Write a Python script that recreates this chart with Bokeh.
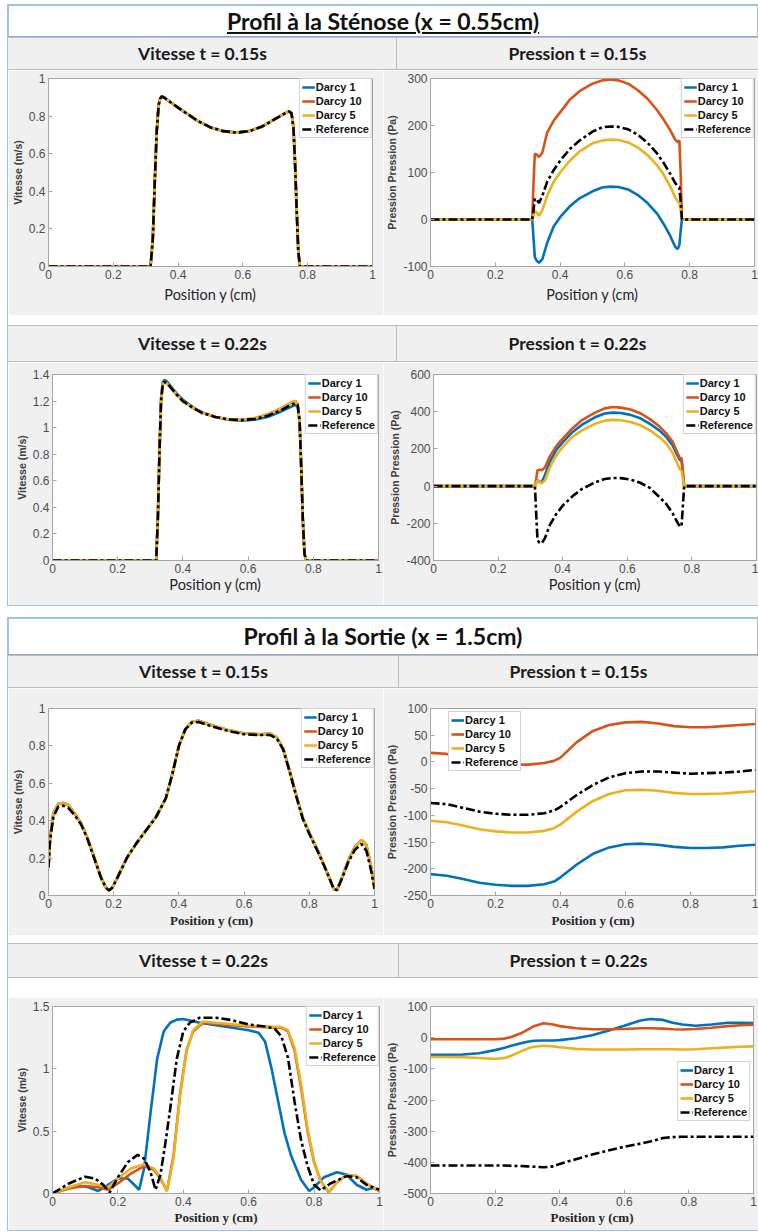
from bokeh.plotting import figure
from bokeh.models import Range1d, FixedTicker, Div, Spacer, Legend, LegendItem, PrintfTickFormatter
from bokeh.layouts import column, row
from bokeh.embed import file_html
from bokeh.resources import INLINE

# ---------------- data ----------------
SERIES = ["Darcy 1", "Darcy 10", "Darcy 5", "Reference"]
COLORS = ["#0072BD", "#D95319", "#EDB120", "#000000"]

X_TICKS = [0, 0.2, 0.4, 0.6, 0.8, 1]
X_TICK_LABELS = ["0", "0.2", "0.4", "0.6", "0.8", "1"]

# Sténose, vitesse t=0.15s
STEN_V15_X = [0, 0.1, 0.2, 0.3, 0.315, 0.322, 0.328, 0.334, 0.34, 0.345, 0.35, 0.36,
              0.38, 0.40, 0.43, 0.46, 0.50, 0.54, 0.58, 0.62, 0.66, 0.70,
              0.72, 0.735, 0.742, 0.75, 0.756, 0.761, 0.766, 0.771, 0.776, 0.78, 0.9, 1.0]
STEN_V15_REF = [0, 0, 0, 0, 0.0, 0.15, 0.45, 0.72, 0.86, 0.895, 0.905, 0.895,
                0.87, 0.845, 0.81, 0.775, 0.74, 0.72, 0.712, 0.72, 0.745, 0.785,
                0.805, 0.82, 0.825, 0.815, 0.74, 0.55, 0.3, 0.08, 0.0, 0, 0, 0]
STEN_V15_D1 = STEN_V15_REF
STEN_V15_D10 = STEN_V15_REF
STEN_V15_D5 = STEN_V15_REF
STEN_V15_YTICKS = [0, 0.2, 0.4, 0.6, 0.8, 1]
STEN_V15_YLABELS = ["0", "0.2", "0.4", "0.6", "0.8", "1"]

# Sténose, pression t=0.15s
STEN_P_X = [0, 0.1, 0.2, 0.3, 0.314, 0.318, 0.322, 0.328, 0.335, 0.345, 0.36,
            0.38, 0.40, 0.43, 0.46, 0.50, 0.53, 0.555, 0.58, 0.61, 0.64, 0.67, 0.70,
            0.72, 0.74, 0.755, 0.763, 0.768, 0.772, 0.776, 0.78, 0.9, 1.0]
STEN_P15_D10 = [0, 0, 0, 0, 0, 80, 140, 138, 133, 142, 185,
                210, 228, 255, 273, 289, 296, 298, 296, 289, 275, 257, 232,
                212, 190, 170, 165, 168, 100, 0, 0, 0, 0]
STEN_P15_REF = [0, 0, 0, 0, 0, 20, 45, 42, 35, 50, 80,
                105, 125, 150, 168, 187, 196, 198, 197, 192, 180, 163, 140,
                120, 97, 78, 70, 68, 40, 0, 0, 0, 0]
STEN_P15_D5 = [0, 0, 0, 0, 0, 8, 18, 15, 8, 20, 50,
               80, 100, 125, 145, 162, 168, 170, 169, 164, 153, 137, 115,
               95, 70, 48, 38, 36, 20, 0, 0, 0, 0]
STEN_P15_D1 = [0, 0, 0, 0, 0, -40, -80, -88, -92, -85, -50,
               -15, 5, 28, 45, 60, 68, 70, 69, 64, 52, 35, 12,
               -10, -35, -58, -63, -55, -25, 0, 0, 0, 0]
STEN_P15_YTICKS = [-100, 0, 100, 200, 300]
STEN_P15_YLABELS = ["-100", "0", "100", "200", "300"]

# Sténose, vitesse t=0.22s
STEN_V22_X = [0, 0.1, 0.2, 0.3, 0.318, 0.323, 0.328, 0.333, 0.338, 0.343, 0.35, 0.36,
              0.38, 0.40, 0.43, 0.46, 0.50, 0.54, 0.58, 0.62, 0.66, 0.70,
              0.73, 0.745, 0.752, 0.758, 0.763, 0.768, 0.773, 0.778, 0.9, 1.0]
STEN_V22_REF = [0, 0, 0, 0, 0, 0.3, 0.8, 1.2, 1.32, 1.345, 1.335, 1.31,
                1.25, 1.2, 1.15, 1.11, 1.08, 1.062, 1.057, 1.065, 1.09, 1.13,
                1.17, 1.185, 1.17, 1.05, 0.7, 0.3, 0.05, 0, 0, 0]
STEN_V22_D1 = [0, 0, 0, 0, 0, 0.3, 0.8, 1.22, 1.34, 1.36, 1.35, 1.32,
               1.26, 1.21, 1.155, 1.115, 1.08, 1.06, 1.052, 1.06, 1.08, 1.12,
               1.155, 1.17, 1.16, 1.05, 0.7, 0.3, 0.05, 0, 0, 0]
STEN_V22_D5 = [0, 0, 0, 0, 0, 0.3, 0.8, 1.2, 1.32, 1.345, 1.335, 1.31,
               1.25, 1.2, 1.15, 1.11, 1.08, 1.062, 1.06, 1.07, 1.1, 1.145,
               1.185, 1.2, 1.18, 1.05, 0.7, 0.3, 0.05, 0, 0, 0]
STEN_V22_D10 = STEN_V22_D5
STEN_V22_YTICKS = [0, 0.2, 0.4, 0.6, 0.8, 1, 1.2, 1.4]
STEN_V22_YLABELS = ["0", "0.2", "0.4", "0.6", "0.8", "1", "1.2", "1.4"]

# Sténose, pression t=0.22s
STEN_P22_D10 = [0, 0, 0, 0, 0, 40, 85, 88, 85, 100, 160,
                215, 255, 310, 355, 395, 418, 425, 422, 412, 392, 360, 320,
                285, 240, 180, 150, 150, 80, 0, 0, 0, 0]
STEN_P22_D1 = [0, 0, 0, 0, 0, 15, 30, 25, 20, 60, 130,
               195, 235, 290, 330, 370, 390, 395, 393, 383, 365, 335, 298,
               265, 220, 165, 140, 138, 70, 0, 0, 0, 0]
STEN_P22_D5 = [0, 0, 0, 0, 0, 15, 30, 22, 15, 30, 100,
               165, 210, 265, 300, 335, 352, 356, 354, 345, 327, 300, 262,
               230, 180, 120, 90, 82, 40, 0, 0, 0, 0]
STEN_P22_REF = [0, 0, 0, 0, 0, -150, -290, -305, -308, -280, -210,
                -150, -105, -55, -15, 20, 38, 44, 43, 35, 18, -10, -60,
                -95, -145, -195, -218, -215, -110, 0, 0, 0, 0]
STEN_P22_YTICKS = [-400, -200, 0, 200, 400, 600]
STEN_P22_YLABELS = ["-400", "-200", "0", "200", "400", "600"]

# Sortie, vitesse t=0.15s
SORT_V15_X = [0, 0.005, 0.015, 0.03, 0.045, 0.06, 0.08, 0.1, 0.12, 0.14,
              0.16, 0.175, 0.185, 0.195, 0.21, 0.24, 0.27, 0.3, 0.33, 0.36,
              0.38, 0.4, 0.42, 0.44, 0.46, 0.5, 0.55, 0.6, 0.65, 0.68,
              0.7, 0.72, 0.74, 0.76, 0.78, 0.8, 0.83, 0.86, 0.875, 0.885,
              0.9, 0.92, 0.94, 0.96, 0.975, 0.99, 1.0]
SORT_V15_REF = [0.15, 0.3, 0.42, 0.475, 0.48, 0.47, 0.43, 0.38, 0.3, 0.2,
                0.1, 0.045, 0.027, 0.04, 0.09, 0.2, 0.28, 0.35, 0.42, 0.52,
                0.65, 0.8, 0.89, 0.925, 0.928, 0.905, 0.88, 0.862, 0.858, 0.858,
                0.84, 0.78, 0.66, 0.53, 0.41, 0.33, 0.22, 0.1, 0.035, 0.03,
                0.09, 0.18, 0.245, 0.275, 0.24, 0.13, 0.035]
SORT_V15_D5 = [0.15, 0.31, 0.44, 0.49, 0.495, 0.485, 0.44, 0.385, 0.305, 0.205,
               0.1, 0.045, 0.027, 0.04, 0.09, 0.2, 0.28, 0.35, 0.42, 0.52,
               0.65, 0.8, 0.89, 0.928, 0.935, 0.91, 0.885, 0.866, 0.862, 0.865,
               0.846, 0.785, 0.665, 0.535, 0.415, 0.335, 0.225, 0.1, 0.035, 0.03,
               0.095, 0.19, 0.26, 0.298, 0.27, 0.15, 0.05]
SORT_V15_D1 = SORT_V15_D5
SORT_V15_D10 = SORT_V15_D5
SORT_V15_YTICKS = [0, 0.2, 0.4, 0.6, 0.8, 1]
SORT_V15_YLABELS = ["0", "0.2", "0.4", "0.6", "0.8", "1"]

# Sortie, pression t=0.15s
SORT_P15_X = [0, 0.05, 0.1, 0.15, 0.2, 0.25, 0.3, 0.35, 0.38, 0.4, 0.45,
              0.5, 0.55, 0.6, 0.65, 0.7, 0.75, 0.8, 0.85, 0.9, 0.95, 1.0]
SORT_P15_D10 = [17, 15, 9, 3, -2, -5, -5, -2, 2, 8, 37, 58, 69, 74, 75, 72, 67, 65, 65, 67, 69, 71]
SORT_P15_REF = [-77, -79, -86, -93, -97, -99, -99, -96, -91, -84, -62, -43, -29, -21, -18, -18, -20, -22, -21, -20, -18, -15]
SORT_P15_D5 = [-110, -113, -119, -126, -130, -132, -132, -129, -124, -117, -93, -73, -60, -53, -52, -54, -58, -60, -60, -59, -57, -55]
SORT_P15_D1 = [-210, -213, -219, -226, -230, -232, -232, -229, -224, -216, -192, -172, -160, -154, -153, -155, -159, -161, -161, -160, -157, -155]
SORT_P15_YTICKS = [-250, -200, -150, -100, -50, 0, 50, 100]
SORT_P15_YLABELS = ["-250", "-200", "-150", "-100", "-50", "0", "50", "100"]

# Sortie, vitesse t=0.22s
SORT_V22_D1_X = [0, 0.04, 0.08, 0.11, 0.14, 0.17, 0.2, 0.23, 0.25, 0.265,
                 0.28, 0.3, 0.32, 0.34, 0.36, 0.38, 0.4, 0.45, 0.5, 0.55,
                 0.6, 0.63, 0.65, 0.67, 0.69, 0.71, 0.73, 0.76, 0.785, 0.8,
                 0.83, 0.87, 0.9, 0.93, 0.96, 0.98, 1.0]
SORT_V22_D1 = [0, 0.04, 0.06, 0.05, 0.02, 0.07, 0.12, 0.12, 0.07, 0.03,
               0.2, 0.65, 1.08, 1.3, 1.37, 1.395, 1.4, 1.37, 1.35, 1.33,
               1.31, 1.29, 1.22, 1.0, 0.74, 0.48, 0.3, 0.11, 0.02, 0.05,
               0.13, 0.17, 0.15, 0.07, 0.03, 0.045, 0.02]
SORT_V22_REF_X = [0, 0.05, 0.1, 0.13, 0.155, 0.175, 0.2, 0.23, 0.26, 0.28,
                  0.3, 0.315, 0.33, 0.345, 0.36, 0.38, 0.4, 0.42, 0.45, 0.5,
                  0.55, 0.6, 0.65, 0.68, 0.7, 0.72, 0.74, 0.76, 0.78, 0.8,
                  0.82, 0.85, 0.9, 0.93, 0.96, 1.0]
SORT_V22_REF = [0, 0.08, 0.135, 0.12, 0.07, 0.01, 0.13, 0.25, 0.31, 0.28,
                0.17, 0.03, 0.15, 0.4, 0.68, 1.08, 1.3, 1.37, 1.41, 1.41,
                1.39, 1.355, 1.34, 1.32, 1.26, 1.09, 0.74, 0.43, 0.22, 0.07,
                0.025, 0.08, 0.14, 0.13, 0.07, 0.03]
SORT_V22_D_X = [0, 0.05, 0.1, 0.14, 0.17, 0.2, 0.24, 0.28, 0.31, 0.33,
                0.35, 0.37, 0.39, 0.41, 0.43, 0.46, 0.5, 0.6, 0.7, 0.72,
                0.74, 0.76, 0.78, 0.8, 0.82, 0.845, 0.87, 0.9, 0.93, 0.96, 1.0]
SORT_V22_D10 = [0, 0.04, 0.06, 0.05, 0.03, 0.08, 0.16, 0.22, 0.19, 0.12,
                0.02, 0.3, 0.8, 1.15, 1.3, 1.37, 1.36, 1.34, 1.33, 1.3,
                1.15, 0.85, 0.5, 0.25, 0.1, 0.01, 0.09, 0.15, 0.14, 0.08, 0.02]
SORT_V22_D5 = [0, 0.05, 0.09, 0.07, 0.05, 0.12, 0.2, 0.235, 0.2, 0.13,
               0.02, 0.28, 0.78, 1.14, 1.31, 1.38, 1.37, 1.345, 1.335, 1.31,
               1.17, 0.88, 0.52, 0.26, 0.1, 0.01, 0.09, 0.15, 0.14, 0.08, 0.02]
SORT_V22_YTICKS = [0, 0.5, 1, 1.5]
SORT_V22_YLABELS = ["0", "0.5", "1", "1.5"]

# Sortie, pression t=0.22s
SORT_P22_X = [0, 0.05, 0.1, 0.15, 0.2, 0.23, 0.25, 0.28, 0.3, 0.32,
              0.35, 0.38, 0.4, 0.45, 0.5, 0.55, 0.6, 0.65, 0.68, 0.72,
              0.75, 0.78, 0.82, 0.87, 0.92, 0.96, 1.0]
SORT_P22_D1 = [-55, -55, -54, -50, -40, -32, -26, -18, -13, -10,
               -9, -9, -8, -2, 8, 22, 38, 55, 60, 57,
               48, 42, 38, 42, 48, 48, 47]
SORT_P22_D10 = [-5, -5, -5, -5, -5, -3, 2, 14, 25, 37,
                46, 42, 37, 30, 27, 27, 28, 30, 30, 29,
                27, 26, 28, 32, 37, 40, 42]
SORT_P22_D5 = [-62, -62, -63, -65, -68, -65, -58, -44, -35, -29,
               -26, -28, -31, -36, -38, -38, -38, -37, -37, -37,
               -37, -38, -37, -34, -31, -29, -28]
SORT_P22_REF = [-410, -410, -410, -410, -410, -410, -411, -412, -413, -414,
                -416, -413, -405, -390, -375, -362, -350, -340, -333, -322,
                -319, -318, -318, -318, -318, -318, -318]
SORT_P22_YTICKS = [-500, -400, -300, -200, -100, 0, 100]
SORT_P22_YLABELS = ["-500", "-400", "-300", "-200", "-100", "0", "100"]

# ---------------- styling helpers ----------------
PANEL = "#f0f0f0"
AXC = "#a6a6a6"
FRAME = "#9dc3e6"
W_FIG = 375
W_SEC = 750


def make_plot(data, yr, yticks, ylabels, ylabel, xfont, xstyle, xsize, height,
              mb, legend_loc, xstand):
    p = figure(width=W_FIG, height=height, x_range=Range1d(0, 1), y_range=Range1d(*yr),
               output_backend="svg", toolbar_location=None,
               min_border_left=mb[0], min_border_right=mb[1],
               min_border_top=mb[2], min_border_bottom=mb[3])
    p.background_fill_color = "white"
    p.border_fill_color = PANEL
    p.outline_line_color = AXC
    p.grid.visible = False
    items = []
    for name, color, (xs, ys) in zip(SERIES, COLORS, data):
        if name == "Reference":
            r = p.line(xs, ys, line_color=color, line_width=2.6, line_dash="9 3 3 3")
        else:
            r = p.line(xs, ys, line_color=color, line_width=2.6)
        items.append(LegendItem(label=name, renderers=[r]))
    for ax in (p.xaxis[0], p.yaxis[0]):
        ax.axis_line_color = AXC
        ax.major_tick_line_color = AXC
        ax.major_tick_in = 4
        ax.major_tick_out = 0
        ax.minor_tick_line_color = None
        ax.major_label_text_font = "Liberation Sans"
        ax.major_label_text_font_size = "12px"
        ax.major_label_text_color = "#4d4d4d"
        ax.major_label_standoff = 3
        ax.formatter = PrintfTickFormatter(format="%g")
    p.xaxis.ticker = FixedTicker(ticks=X_TICKS)
    p.xaxis.major_label_overrides = dict(zip(X_TICKS, X_TICK_LABELS))
    p.yaxis.ticker = FixedTicker(ticks=yticks)
    p.yaxis.major_label_overrides = dict(zip(yticks, ylabels))
    p.xaxis.axis_label = "Position y (cm)"
    p.xaxis.axis_label_text_font = xfont
    p.xaxis.axis_label_text_font_style = xstyle
    p.xaxis.axis_label_text_font_size = xsize
    p.xaxis.axis_label_text_color = "#262626"
    p.xaxis.axis_label_standoff = xstand
    p.yaxis.axis_label = ylabel
    p.yaxis.axis_label_text_font = "Liberation Sans"
    p.yaxis.axis_label_text_font_style = "bold"
    p.yaxis.axis_label_text_font_size = "10.5px"
    p.yaxis.axis_label_text_color = "#404040"
    p.yaxis.axis_label_standoff = 2
    leg = Legend(items=items, location=legend_loc)
    leg.background_fill_color = "white"
    leg.background_fill_alpha = 1
    leg.border_line_color = AXC
    leg.label_text_font = "Liberation Sans"
    leg.label_text_font_style = "bold"
    leg.label_text_font_size = "11px"
    leg.label_text_color = "#111111"
    leg.glyph_width = 13
    leg.glyph_height = 10
    leg.label_height = 11
    leg.label_standoff = 1
    leg.spacing = 2
    leg.padding = 2
    leg.margin = 0
    p.add_layout(leg)
    return p


def header(text, width, height, divider):
    shadows = ["inset 0 1px 0 #bdbdbd", "inset 0 -1px 0 #bdbdbd"]
    if divider:
        shadows.append("inset -1px 0 0 #bdbdbd")
    return Div(text=text, width=width, height=height, margin=0, styles={
        "background-color": PANEL, "font-family": "Lato", "font-weight": "bold",
        "font-size": "17.5px", "color": "#1a1a1a", "text-align": "center",
        "line-height": f"{height}px", "box-shadow": ", ".join(shadows),
        "overflow": "hidden"})


def title(html, height):
    return Div(text=html, width=W_SEC, height=height, margin=0, styles={
        "background-color": "white", "font-family": "Lato", "font-weight": "bold",
        "font-size": "23px", "color": "#111111", "text-align": "center",
        "line-height": f"{height}px",
        "box-shadow": f"inset 0 -1px 0 #8eaadb, inset 0 1px 0 {FRAME}, inset 1px 0 0 {FRAME}, inset -1px 0 0 {FRAME}",
        "overflow": "hidden"})


VLAB = "Vitesse (m/s)"
PLAB = "Pression Pression (Pa)"
SANS = ("Lato", "normal", "14.5px")
SERIF = ("Liberation Serif", "bold", "13px")
SECTION_STYLE = {"outline": f"1px solid {FRAME}", "outline-offset": "0px"}

# --- Section 1
p1 = make_plot([(STEN_V15_X, STEN_V15_D1), (STEN_V15_X, STEN_V15_D10), (STEN_V15_X, STEN_V15_D5),
                (STEN_V15_X, STEN_V15_REF)], (0, 1), STEN_V15_YTICKS, STEN_V15_YLABELS, VLAB,
               *SANS, 245, (35, 11, 8, 49), "top_right", 4)
p2 = make_plot([(STEN_P_X, STEN_P15_D1), (STEN_P_X, STEN_P15_D10), (STEN_P_X, STEN_P15_D5),
                (STEN_P_X, STEN_P15_REF)], (-100, 300), STEN_P15_YTICKS, STEN_P15_YLABELS, PLAB,
               *SANS, 245, (44, 4, 8, 49), "top_right", 4)
p3 = make_plot([(STEN_V22_X, STEN_V22_D1), (STEN_V22_X, STEN_V22_D10), (STEN_V22_X, STEN_V22_D5),
                (STEN_V22_X, STEN_V22_REF)], (0, 1.4), STEN_V22_YTICKS, STEN_V22_YLABELS, VLAB,
               *SANS, 243, (44, 5, 11, 45), "top_right", 0)
p4 = make_plot([(STEN_P_X, STEN_P22_D1), (STEN_P_X, STEN_P22_D10), (STEN_P_X, STEN_P22_D5),
                (STEN_P_X, STEN_P22_REF)], (-400, 600), STEN_P22_YTICKS, STEN_P22_YLABELS, PLAB,
               *SANS, 243, (50, 2, 12, 43), "top_right", 0)

sec1 = column(
    title("<u>Profil à la Sténose (x = 0.55cm)</u>", 32),
    row(header("Vitesse t = 0.15s", 389, 33, True), header("Pression t = 0.15s", 361, 33, False)),
    row(p1, p2),
    Spacer(width=W_SEC, height=10),
    row(header("Vitesse t = 0.22s", 389, 37, True), header("Pression t = 0.22s", 361, 37, False)),
    row(p3, p4),
    styles=SECTION_STYLE,
)

# --- Section 2
p5 = make_plot([(SORT_V15_X, SORT_V15_D1), (SORT_V15_X, SORT_V15_D10), (SORT_V15_X, SORT_V15_D5),
                (SORT_V15_X, SORT_V15_REF)], (0, 1), SORT_V15_YTICKS, SORT_V15_YLABELS, VLAB,
               *SERIF, 247, (39, 9, 19, 40), "top_right", 2)
p6 = make_plot([(SORT_P15_X, SORT_P15_D1), (SORT_P15_X, SORT_P15_D10), (SORT_P15_X, SORT_P15_D5),
                (SORT_P15_X, SORT_P15_REF)], (-250, 100), SORT_P15_YTICKS, SORT_P15_YLABELS, PLAB,
               *SERIF, 247, (45, 3, 20, 40), (18, 124), 2)
p7 = make_plot([(SORT_V22_D1_X, SORT_V22_D1), (SORT_V22_D_X, SORT_V22_D10), (SORT_V22_D_X, SORT_V22_D5),
                (SORT_V22_REF_X, SORT_V22_REF)], (0, 1.5), SORT_V22_YTICKS, SORT_V22_YLABELS, VLAB,
               *SERIF, 233, (44, 4, 7, 36), "top_right", 1)
p8 = make_plot([(SORT_P22_X, SORT_P22_D1), (SORT_P22_X, SORT_P22_D10), (SORT_P22_X, SORT_P22_D5),
                (SORT_P22_X, SORT_P22_REF)], (-500, 100), SORT_P22_YTICKS, SORT_P22_YLABELS, PLAB,
               *SERIF, 233, (47, 5, 9, 37), (247, 72), 1)

sec2 = column(
    title("Profil à la Sortie (x = 1.5cm)", 37),
    row(header("Vitesse t = 0.15s", 391, 33, True), header("Pression t = 0.15s", 359, 33, False)),
    row(p5, p6),
    Spacer(width=W_SEC, height=8),
    row(header("Vitesse t = 0.22s", 391, 35, True), header("Pression t = 0.22s", 359, 35, False)),
    Spacer(width=W_SEC, height=19),
    row(p7, p8),
    styles=SECTION_STYLE,
)

main = column(Spacer(width=W_SEC, height=5), sec1, Spacer(width=W_SEC, height=13), sec2)
layout = row(Spacer(width=8, height=1230), main)

open("out.html", "w").write(file_html(layout, INLINE))
